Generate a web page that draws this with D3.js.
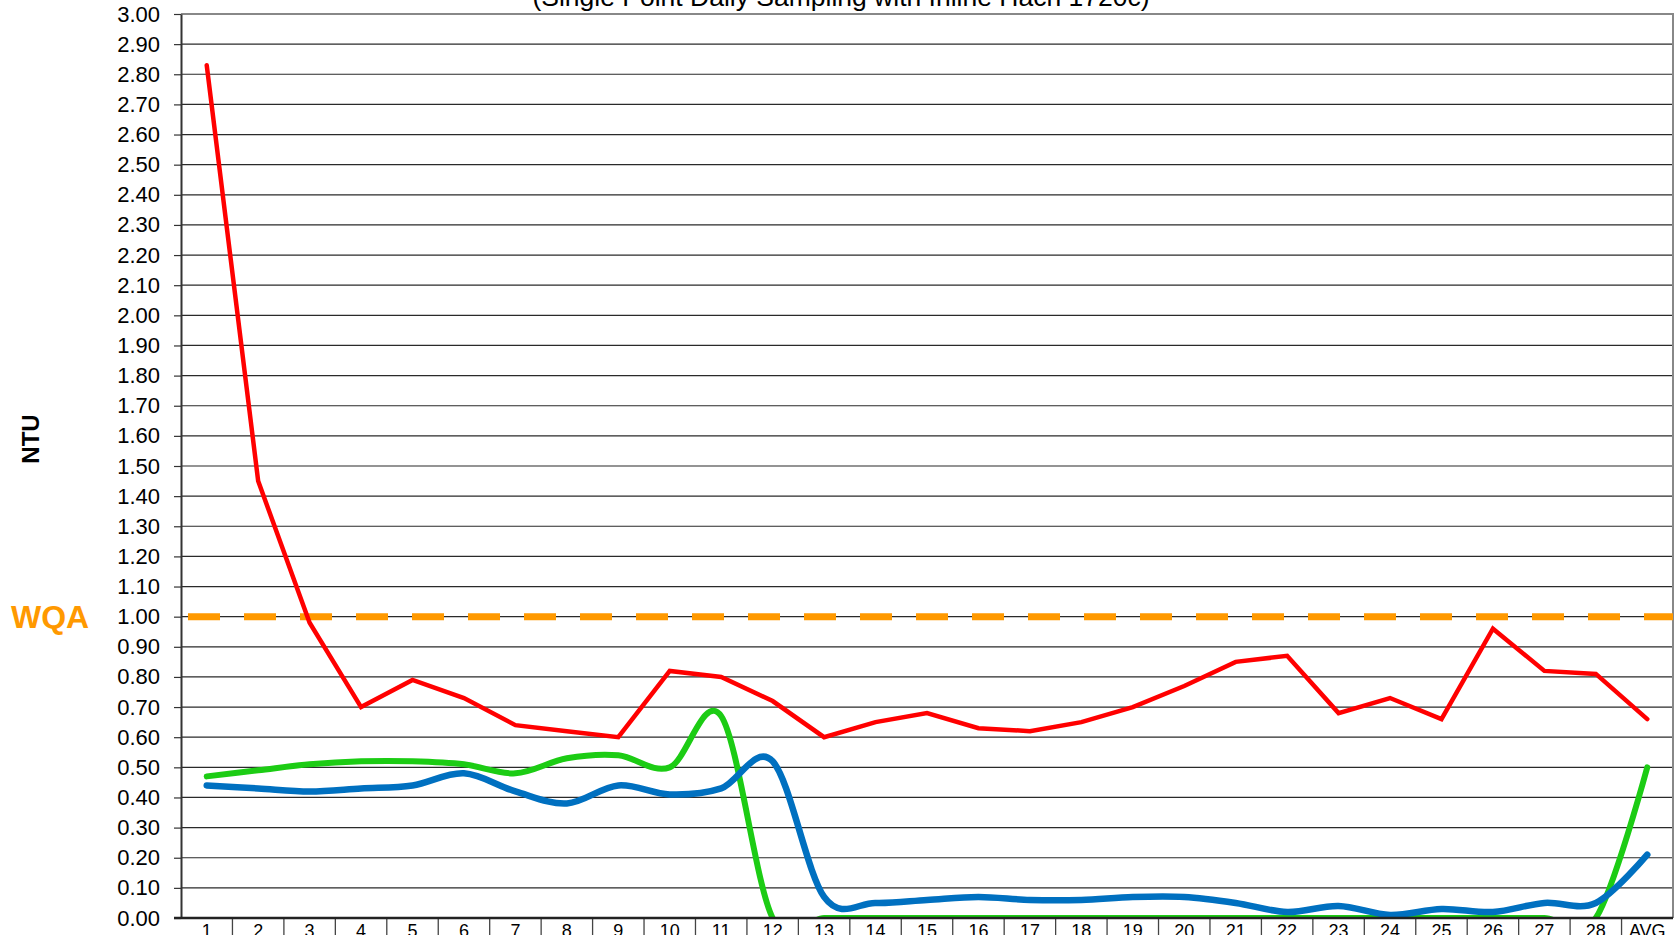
<!DOCTYPE html>
<html lang="en">
<head>
    <meta charset="UTF-8">
    <!-- Load d3.js -->
    <script src="https://d3js.org/d3.v7.min.js"></script>
    <style>
        body { margin: 0; background: #fff; }
        svg { display: block; font-family: "Liberation Sans", Arial, sans-serif; }
    </style>
</head>
<body>
<div id="chart_area"></div>

<script>
    // categories along the bottom
    var days = ["1","2","3","4","5","6","7","8","9","10","11","12","13","14","15",
                "16","17","18","19","20","21","22","23","24","25","26","27","28","AVG"];

    // series values (NTU)
    var redSeries = [2.83,1.45,0.98,0.70,0.79,0.73,0.64,0.62,0.60,0.82,0.80,0.72,0.60,0.65,0.68,
                     0.63,0.62,0.65,0.70,0.77,0.85,0.87,0.68,0.73,0.66,0.96,0.82,0.81,0.66];
    var greenSeries = [0.47,0.49,0.51,0.52,0.52,0.51,0.48,0.53,0.54,0.50,0.67,0.00,0.00,0.00,0.00,
                       0.00,0.00,0.00,0.00,0.00,0.00,0.00,0.00,0.00,0.00,0.00,0.00,0.00,0.50];
    var blueSeries = [0.44,0.43,0.42,0.43,0.44,0.48,0.42,0.38,0.44,0.41,0.43,0.52,0.07,0.05,0.06,
                      0.07,0.06,0.06,0.07,0.07,0.05,0.02,0.04,0.01,0.03,0.02,0.05,0.05,0.21];

    var yTicks = [0.0,0.1,0.2,0.3,0.4,0.5,0.6,0.7,0.8,0.9,1.0,1.1,1.2,1.3,1.4,1.5,
                  1.6,1.7,1.8,1.9,2.0,2.1,2.2,2.3,2.4,2.5,2.6,2.7,2.8,2.9,3.0];
    var wqaLimit = 1.0;
    var title = "(Single Point Daily Sampling with Inline Hach 1720c)";

    var W = 1677, H = 935;
    var plot = { left: 181, right: 1673, top: 14, bottom: 918 };

    var svg = d3.select("#chart_area")
        .append("svg")
        .attr("width", W)
        .attr("height", H);

    var x = d3.scaleBand()
        .domain(days)
        .range([plot.left, plot.right])
        .padding(0);

    var y = d3.scaleLinear()
        .domain([0, 3])
        .range([plot.bottom, plot.top]);

    svg.append("defs").append("clipPath")
        .attr("id", "plotClip")
        .append("rect")
        .attr("x", plot.left)
        .attr("y", plot.top)
        .attr("width", plot.right - plot.left)
        .attr("height", plot.bottom - plot.top);

    // horizontal gridlines
    svg.append("g")
        .selectAll("line")
        .data(yTicks.filter(function(d) { return d > 0 && d < 3; }))
        .enter()
        .append("line")
        .attr("x1", plot.left)
        .attr("x2", plot.right)
        .attr("y1", function(d) { return y(d); })
        .attr("y2", function(d) { return y(d); })
        .attr("stroke", "#2a2a2a")
        .attr("stroke-width", 1.2);

    // top and right border
    svg.append("path")
        .attr("d", "M" + plot.left + "," + y(3) + "H" + plot.right + "V" + plot.bottom)
        .attr("fill", "none")
        .attr("stroke", "#888")
        .attr("stroke-width", 2);

    // y axis
    var yAxis = svg.append("g")
        .attr("transform", "translate(" + plot.left + ",0)")
        .call(d3.axisLeft(y)
            .tickValues(yTicks)
            .tickFormat(d3.format(".2f"))
            .tickSize(7)
            .tickSizeOuter(0)
            .tickPadding(14));
    yAxis.select(".domain").attr("stroke", "#333").attr("stroke-width", 2);
    yAxis.selectAll(".tick line").attr("stroke", "#333").attr("stroke-width", 1.2);
    yAxis.selectAll("text")
        .attr("font-size", "22px")
        .attr("fill", "#000")
        .attr("font-family", "'Liberation Sans', Arial, sans-serif");

    // x axis: separators between categories, labels centred in each band
    var xg = svg.append("g");
    xg.selectAll("line.sep")
        .data(days.slice(1))
        .enter()
        .append("line")
        .attr("class", "sep")
        .attr("x1", function(d) { return x(d); })
        .attr("x2", function(d) { return x(d); })
        .attr("y1", plot.bottom)
        .attr("y2", H)
        .attr("stroke", "#444")
        .attr("stroke-width", 1.3);
    xg.selectAll("text")
        .data(days)
        .enter()
        .append("text")
        .attr("x", function(d) { return x(d) + x.bandwidth() / 2; })
        .attr("y", 937)
        .attr("text-anchor", "middle")
        .attr("font-size", "18px")
        .attr("fill", "#000")
        .text(function(d) { return d; });

    var series = svg.append("g").attr("clip-path", "url(#plotClip)");
    var cx = function(d, i) { return x(days[i]) + x.bandwidth() / 2; };

    var smooth = d3.line()
        .x(cx)
        .y(function(d) { return y(d); })
        .curve(d3.curveCardinal.tension(0));

    var straight = d3.line()
        .x(cx)
        .y(function(d) { return y(d); });

    series.append("path")
        .attr("d", smooth(greenSeries))
        .attr("fill", "none")
        .attr("stroke", "#1ccc14")
        .attr("stroke-width", 6)
        .attr("stroke-linecap", "round")
        .attr("stroke-linejoin", "round");

    series.append("path")
        .attr("d", smooth(blueSeries))
        .attr("fill", "none")
        .attr("stroke", "#0070c0")
        .attr("stroke-width", 6.5)
        .attr("stroke-linecap", "round")
        .attr("stroke-linejoin", "round");

    // WQA limit
    series.append("line")
        .attr("x1", plot.left)
        .attr("x2", plot.right)
        .attr("y1", y(wqaLimit))
        .attr("y2", y(wqaLimit))
        .attr("stroke", "#ff9900")
        .attr("stroke-width", 7)
        .attr("stroke-dasharray", "32,24")
        .attr("stroke-dashoffset", 49);

    series.append("path")
        .attr("d", straight(redSeries))
        .attr("fill", "none")
        .attr("stroke", "#ff0000")
        .attr("stroke-width", 4.5)
        .attr("stroke-linecap", "round")
        .attr("stroke-linejoin", "miter");

    // bottom axis line
    svg.append("line")
        .attr("x1", plot.left - 7)
        .attr("x2", plot.right)
        .attr("y1", plot.bottom)
        .attr("y2", plot.bottom)
        .attr("stroke", "#222")
        .attr("stroke-width", 2.5);

    // labels
    svg.append("text")
        .attr("x", 841)
        .attr("y", 6)
        .attr("text-anchor", "middle")
        .attr("font-size", "26.5px")
        .attr("fill", "#000")
        .text(title);

    svg.append("text")
        .attr("transform", "translate(39,439) rotate(-90)")
        .attr("text-anchor", "middle")
        .attr("font-size", "24px")
        .attr("font-weight", "bold")
        .attr("fill", "#000")
        .text("NTU");

    svg.append("text")
        .attr("x", 11)
        .attr("y", 628)
        .attr("font-size", "32px")
        .attr("font-weight", "bold")
        .attr("fill", "#ff9900")
        .text("WQA");
</script>
</body>
</html>
